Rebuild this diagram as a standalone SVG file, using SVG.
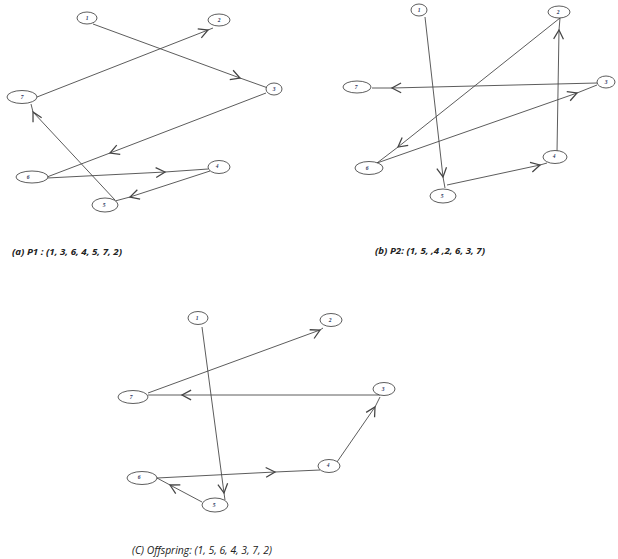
<svg xmlns="http://www.w3.org/2000/svg" width="618" height="559" viewBox="0 0 618 559">
<style>
.n ellipse{fill:#fff;stroke:#333;stroke-width:0.8}
.n text{font-family:"Liberation Serif",serif;font-size:5.5px;font-style:italic;font-weight:bold;fill:#2a3560;text-anchor:middle;dominant-baseline:central}
.e path{fill:none;stroke:#4a4a4a;stroke-width:0.9;marker-mid:url(#chev)}
.cap{font-family:"Open Sans","Liberation Sans",sans-serif;font-size:9.4px;font-style:italic;font-weight:bold;fill:#222}
</style>
<defs>
<marker id="chev" markerUnits="userSpaceOnUse" markerWidth="14" markerHeight="14" refX="0" refY="0" viewBox="-8 -5 10 10" orient="auto" overflow="visible">
<path d="M -6.5 -3.5 L 0 0 L -6.5 3.5" fill="none" stroke="#444" stroke-width="0.9"/>
</marker>
</defs>
<g class="e" id="edges">
<!-- (a) -->
<path d="M93 24 L240 78 L268 88"/>
<path d="M37 97 L208 30 L213 28"/>
<path d="M266 93 L110 153 L47 177"/>
<path d="M47 178 L165 172 L208 169"/>
<path d="M210 171 L130 197 L115 201"/>
<path d="M115 200 L33 112 L31 104"/>
<!-- (b) -->
<path d="M425 17 L443 177 L445 188"/>
<path d="M447 185 L540 165 L547 163"/>
<path d="M557 152 L559 30 L560 18"/>
<path d="M560 18 L398 147 L377 163"/>
<path d="M377 163 L577 93 L597 85"/>
<path d="M597 83 L392 88 L372 88"/>
<!-- (c) -->
<path d="M202 327 L224 493 L225 500"/>
<path d="M202 502 L170 485 L157 478"/>
<path d="M157 478 L275 472 L320 470"/>
<path d="M337 462 L375 407 L380 397"/>
<path d="M380 395 L182 395 L148 395"/>
<path d="M148 393 L320 330 L323 328"/>
</g>
<!-- (a) nodes -->
<g class="n" id="a1"><ellipse cx="87" cy="18" rx="10" ry="6"/><text x="87" y="18">1</text></g>
<g class="n" id="a2"><ellipse cx="219" cy="20" rx="11" ry="6"/><text x="219" y="20">2</text></g>
<g class="n" id="a3"><ellipse cx="274" cy="89" rx="8" ry="6"/><text x="274" y="89">3</text></g>
<g class="n" id="a7"><ellipse cx="22" cy="97" rx="15" ry="6.5"/><text x="22" y="97">7</text></g>
<g class="n" id="a6"><ellipse cx="32" cy="177" rx="16" ry="6"/><text x="28" y="177">6</text></g>
<g class="n" id="a4"><ellipse cx="219" cy="167" rx="11" ry="6.5"/><text x="217" y="166">4</text></g>
<g class="n" id="a5"><ellipse cx="105" cy="205" rx="13" ry="7"/><text x="104" y="205">5</text></g>
<!-- (b) nodes -->
<g class="n" id="b1"><ellipse cx="419" cy="10" rx="8" ry="6"/><text x="419" y="10">1</text></g>
<g class="n" id="b2"><ellipse cx="559" cy="12" rx="11" ry="6"/><text x="558" y="12">2</text></g>
<g class="n" id="b3"><ellipse cx="606" cy="82" rx="9" ry="6"/><text x="606" y="82">3</text></g>
<g class="n" id="b7"><ellipse cx="357" cy="87" rx="14" ry="6"/><text x="356" y="87">7</text></g>
<g class="n" id="b6"><ellipse cx="369" cy="168" rx="14" ry="6.5"/><text x="367" y="168">6</text></g>
<g class="n" id="b4"><ellipse cx="555" cy="157" rx="12" ry="6.5"/><text x="554" y="156">4</text></g>
<g class="n" id="b5"><ellipse cx="443" cy="196" rx="13" ry="7"/><text x="442" y="196">5</text></g>
<!-- (c) nodes -->
<g class="n" id="c1"><ellipse cx="198" cy="318" rx="10" ry="6.5"/><text x="197" y="318">1</text></g>
<g class="n" id="c2"><ellipse cx="331" cy="320" rx="11" ry="6.5"/><text x="330" y="320">2</text></g>
<g class="n" id="c3"><ellipse cx="384" cy="389" rx="11" ry="6.5"/><text x="383" y="389">3</text></g>
<g class="n" id="c7"><ellipse cx="133" cy="397" rx="15" ry="6.5"/><text x="131" y="397">7</text></g>
<g class="n" id="c6"><ellipse cx="142" cy="478" rx="15" ry="6.5"/><text x="139" y="477">6</text></g>
<g class="n" id="c4"><ellipse cx="329" cy="466" rx="11" ry="6.5"/><text x="328" y="465">4</text></g>
<g class="n" id="c5"><ellipse cx="215" cy="505" rx="13" ry="7"/><text x="214" y="505">5</text></g>
<!-- captions -->
<text class="cap" x="12" y="255" textLength="110" lengthAdjust="spacingAndGlyphs">(a) P1 : (1, 3, 6, 4, 5, 7, 2)</text>
<text class="cap" x="375" y="254" textLength="110" lengthAdjust="spacingAndGlyphs">(b) P2: (1, 5, ,4 ,2, 6, 3, 7)</text>
<text class="cap" x="132" y="554" textLength="140" lengthAdjust="spacingAndGlyphs" style="font-weight:normal;font-size:10px">(C) Offspring: (1, 5, 6, 4, 3, 7, 2)</text>
</svg>
